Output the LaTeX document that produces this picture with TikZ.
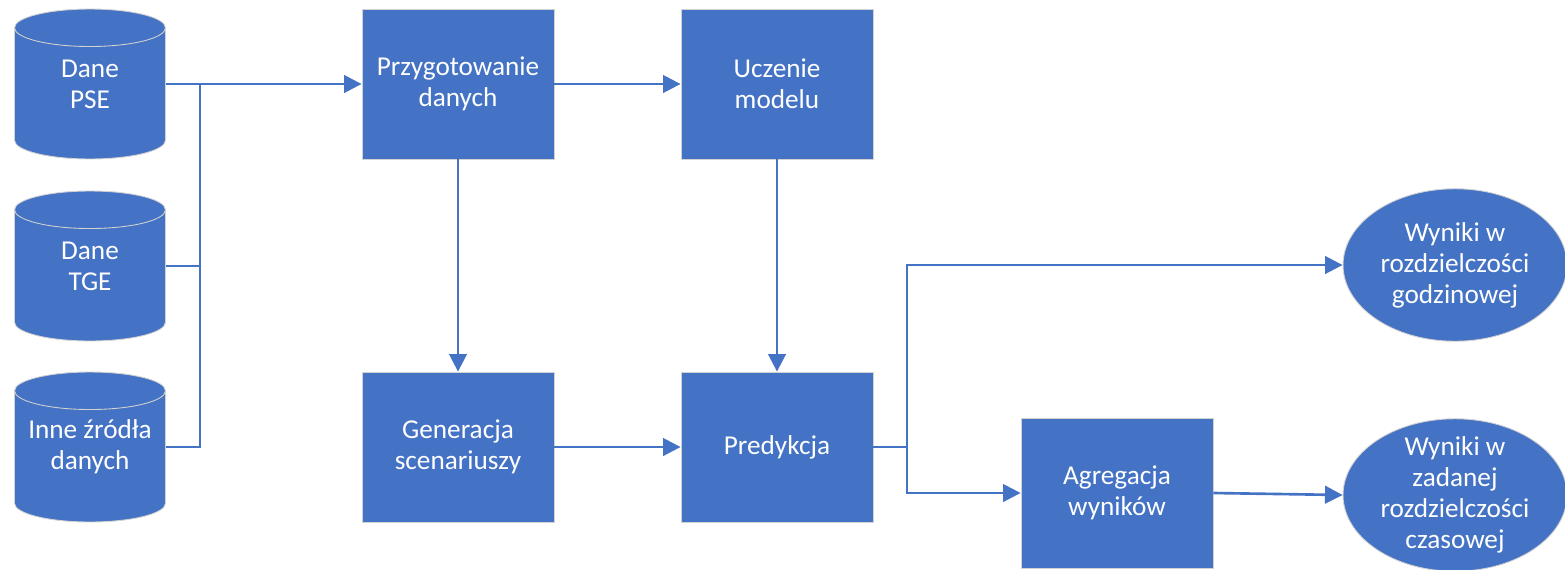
\documentclass[tikz,border=0pt]{standalone}
\usepackage{fontspec}
\setmainfont{Carlito}
\usetikzlibrary{arrows.meta, shapes.geometric}
\definecolor{flowblue}{HTML}{4472C4}
\tikzset{
	flowtext/.style={text=white, align=center, font=\fontsize{15.5}{17.6}\selectfont},
	block/.style={rectangle, flowtext, fill=flowblue, draw=gray!35, line width=0.5pt, minimum width=3.84cm, minimum height=3cm, inner sep=0pt},
	source/.style={cylinder, shape border rotate=90, aspect=0.25, anchor=shape center, fill=flowblue, draw=gray!35, line width=0.5pt, minimum width=3.02cm, minimum height=3cm, inner xsep=1.5cm, inner ysep=0pt},
	result/.style={ellipse, fill=flowblue, draw=gray!35, line width=0.5pt, minimum width=4.48cm, minimum height=3.05cm, inner sep=0pt},
	link/.style={draw=flowblue, line width=1.5pt},
}

\begin{document}
\begin{tikzpicture}[x=0.02cm, y=-0.02cm, >={Triangle[length=10pt, width=10pt]}]
		\useasboundingbox (0,0) rectangle (1565,569);
		%sources
			\node [source] (pse) at (90,84) {};
			\node [flowtext] (pseText) at (pse.shape center) {Dane\\PSE};
			\node [source] (tge) at (90,266) {};
			\node [flowtext] (tgeText) at (tge.shape center) {Dane\\TGE};
			\node [source] (inne) at (90,447) {};
			\node [flowtext] (inneText) at (inne.shape center) {Inne źródła\\danych};
		%processing
			\node [block] (prep) at (458,84) {Przygotowanie\\danych};
			\node [block] (ucz) at (777,84) {Uczenie\\modelu};
			\node [block] (gen) at (458,447) {Generacja\\scenariuszy};
			\node [block] (pred) at (777,447) {Predykcja};
			\node [block] (agr) at (1117,493) {Agregacja\\wyników};
		%results
			\node [result, label={[flowtext]center:Wyniki w\\rozdzielczości\\godzinowej}] (godz) at (1455,265) {};
			\node [result, label={[flowtext]center:Wyniki w\\zadanej\\rozdzielczości\\czasowej}] (czas) at (1455,495) {};
		%joins
			\coordinate (join) at (200,84);
			\coordinate (fork) at (907,447);
		%connectors
			\draw [link, ->] (pse.shape center -| pse.east) to (prep.west);
			\draw [link] (inne.shape center -| inne.east) -| (join);
			\draw [link] (tge.shape center -| tge.east) to (tge.shape center -| join);
			\draw [link, ->] (prep.east) to (ucz.west);
			\draw [link, ->] (prep.south) to (gen.north);
			\draw [link, ->] (ucz.south) to (pred.north);
			\draw [link, ->] (gen.east) to (pred.west);
			\draw [link, ->] (pred.east) to (fork) |- (godz.west);
			\draw [link, ->] (fork) |- (agr.west);
			\draw [link, ->] (agr.east) to (czas.west);
\end{tikzpicture}
\end{document}
